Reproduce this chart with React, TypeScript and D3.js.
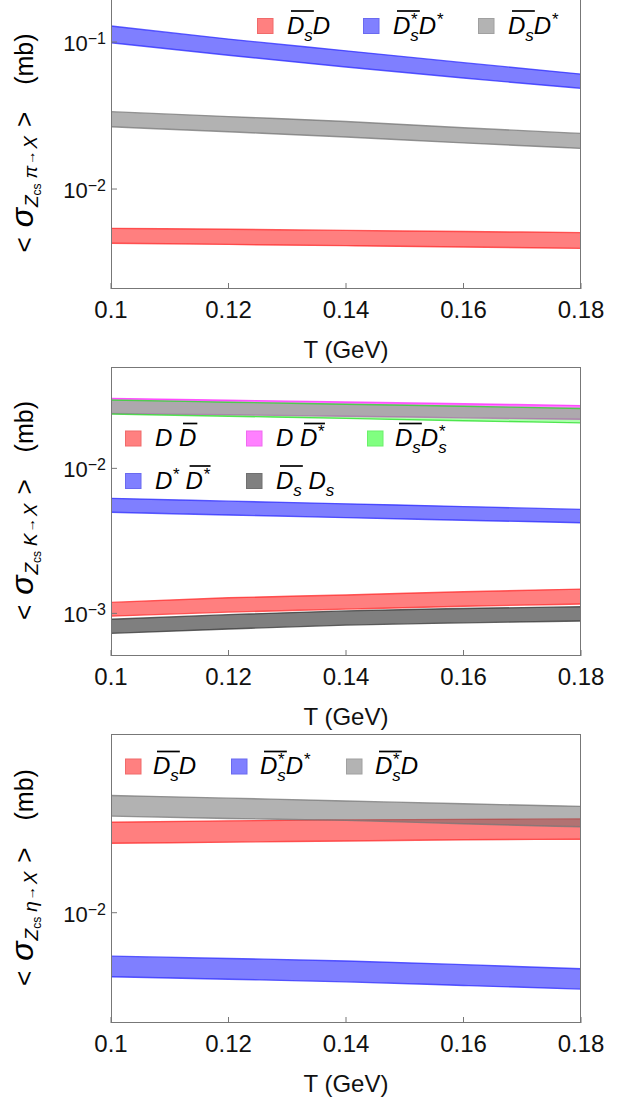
import React from 'react';
import * as d3 from 'd3';

// ---------------- data ----------------
const T = [0.1, 0.12, 0.14, 0.16, 0.18];
const xTicks = [0.1, 0.12, 0.14, 0.16, 0.18];
const xTickLabels = ['0.1', '0.12', '0.14', '0.16', '0.18'];

// Panel 1: Zcs pi -> X
const pi_DsD_hi = [0.0054, 0.00532, 0.00523, 0.00514, 0.00505];
const pi_DsD_lo = [0.00428, 0.0042, 0.00412, 0.00403, 0.00395];
const pi_DssDs_hi = [0.1285, 0.1047, 0.0871, 0.0724, 0.0605];
const pi_DssDs_lo = [0.0989, 0.0813, 0.0676, 0.0569, 0.0484];
const pi_DsDst_hi = [0.0336, 0.0311, 0.0288, 0.0261, 0.0239];
const pi_DsDst_lo = [0.0265, 0.0245, 0.0226, 0.0206, 0.0189];
const pi_yTicks = [0.1, 0.01];
const pi_yTickExp = ['−1', '−2'];

// Panel 2: Zcs K -> X
const K_DD_hi = [0.00119, 0.00128, 0.00134, 0.00141, 0.00147];
const K_DD_lo = [0.000957, 0.00102, 0.00107, 0.00112, 0.00116];
const K_DDst_hi = [0.0304, 0.0295, 0.0287, 0.0279, 0.0271];
const K_DDst_lo = [0.0239, 0.0234, 0.0229, 0.0223, 0.0218];
const K_DsDss_hi = [0.0296, 0.0286, 0.0277, 0.0268, 0.0259];
const K_DsDss_lo = [0.0237, 0.0229, 0.0221, 0.0213, 0.0206];
const K_DstDst_hi = [0.00621, 0.00594, 0.00569, 0.00545, 0.00521];
const K_DstDst_lo = [0.00498, 0.00477, 0.00457, 0.00439, 0.00422];
const K_DsDs_hi = [0.00091, 0.00098, 0.00104, 0.00108, 0.00111];
const K_DsDs_lo = [0.000728, 0.00078, 0.00083, 0.00086, 0.000885];
const K_yTicks = [0.01, 0.001];
const K_yTickExp = ['−2', '−3'];

// Panel 3: Zcs eta -> X
const eta_DsD_hi = [0.0226, 0.0229, 0.0231, 0.0232, 0.0233];
const eta_DsD_lo = [0.0187, 0.0189, 0.0191, 0.0193, 0.0194];
const eta_DssDs_hi = [0.00676, 0.00662, 0.00647, 0.00626, 0.00603];
const eta_DssDs_lo = [0.00561, 0.00549, 0.00536, 0.00519, 0.00502];
const eta_DssD_hi = [0.0288, 0.0281, 0.0274, 0.0267, 0.0261];
const eta_DssD_lo = [0.0239, 0.0234, 0.023, 0.0223, 0.0217];
const eta_yTicks = [0.01];
const eta_yTickExp = ['−2'];

// ---------------- styling ----------------
const FONT = '"Liberation Sans", Arial, Helvetica, sans-serif';
const COLORS: Record<string, { fill: string; line: string; sw: string; swb: string }> = {
  red: { fill: '#ff0000', line: '#ff2a2a', sw: '#ff8080', swb: '#f06a6a' },
  blue: { fill: '#0000ff', line: '#2a2aff', sw: '#8080ff', swb: '#6a6af0' },
  gray: { fill: '#666666', line: '#777777', sw: '#b3b3b3', swb: '#a0a0a0' },
  dark: { fill: '#000000', line: '#333333', sw: '#808080', swb: '#707070' },
  magenta: { fill: '#ff00ff', line: '#ff2aff', sw: '#ff80ff', swb: '#f06af0' },
  green: { fill: '#00ff00', line: '#22dd22', sw: '#80ff80', swb: '#6af06a' },
};

// ---------------- rich text ----------------
type Piece = { t: string; s: number; dy?: number; i?: boolean; st?: boolean; ov?: boolean; g?: number };
let ctx: CanvasRenderingContext2D | null = null;
function mw(t: string, size: number, italic?: boolean) {
  if (!ctx) ctx = document.createElement('canvas').getContext('2d');
  if (!ctx) return t.length * size * 0.6;
  ctx.font = `${italic ? 'italic ' : ''}${size}px "Liberation Sans"`;
  return ctx.measureText(t).width;
}
function layout(pieces: Piece[]) {
  let x = 0;
  let prevStart = 0;
  const items: (Piece & { x: number; w: number })[] = [];
  for (const p of pieces) {
    const w = mw(p.t, p.s, p.i);
    const px = p.st ? prevStart : x + (p.g || 0);
    items.push({ ...p, x: px, w });
    if (p.st) x = Math.max(x, px + w);
    else {
      prevStart = px;
      x = px + w;
    }
  }
  return { items, width: x };
}
function RichText({ pieces, x, y, anchor = 'start', rotate = 0, ovY = 22.5 }: { pieces: Piece[]; x: number; y: number; anchor?: string; rotate?: number; ovY?: number }) {
  const { items, width } = layout(pieces);
  const off = anchor === 'middle' ? -width / 2 : anchor === 'end' ? -width : 0;
  const groups: { x0: number; x1: number }[] = [];
  let cur: { x0: number; x1: number } | null = null;
  items.forEach((it) => {
    if (it.ov) {
      if (!cur) {
        cur = { x0: it.x, x1: it.x + it.w };
        groups.push(cur);
      } else cur.x1 = Math.max(cur.x1, it.x + it.w);
    } else cur = null;
  });
  return (
    <g transform={`translate(${x},${y}) rotate(${rotate})`}>
      {items.map((it, k) => (
        <text key={k} x={it.x + off} y={it.dy || 0} fontSize={it.s} fontStyle={it.i ? 'italic' : 'normal'} fontFamily={FONT} fill="#000">
          {it.t}
        </text>
      ))}
      {groups.map((g, k) => (
        <line key={'o' + k} x1={g.x0 + off + 4} x2={g.x1 + off + 1} y1={-ovY} y2={-ovY} stroke="#000" strokeWidth={1.7} />
      ))}
    </g>
  );
}

const M = 24; // legend main size
const D = (ov = false): Piece => ({ t: 'D', s: M, i: true, ov });
const sub = (ov = false, st = false): Piece => ({ t: 's', s: 17, dy: 7, i: true, ov, st });
const sup = (ov = false, st = false): Piece => ({ t: '*', s: 17, dy: -9, i: true, ov, st });
const sp: Piece = { t: ' ', s: M };

const lab_DsbarD: Piece[] = [D(true), sub(true), D()];
const lab_DssbarDst: Piece[] = [D(true), sub(true), sup(true, true), D(), sup()];
const lab_DsbarDst: Piece[] = [D(true), sub(true), D(), sup()];
const lab_DDbar: Piece[] = [D(), sp, D(true)];
const lab_DDstbar: Piece[] = [D(), sp, D(true), sup(true)];
const lab_DsbarDss: Piece[] = [D(true), sub(true), D(), sub(), sup(false, true)];
const lab_DstDstbar: Piece[] = [D(), sup(), sp, D(true), sup(true)];
const lab_DsbarDs: Piece[] = [D(true), sub(true), sp, D(), sub()];
const lab_DssbarD: Piece[] = [D(true), sub(true), sup(true, true), D()];

const ylabel = (meson: string): Piece[] => [
  { t: '<', s: 26 },
  { t: 'σ', s: 32, i: true, g: 10 },
  { t: 'Z', s: 19, dy: 5, i: true, g: 1 },
  { t: 'cs', s: 12, dy: 8 },
  { t: meson, s: 19, dy: 4, i: true, g: 5 },
  { t: '→', s: 14, dy: 2, g: 1 },
  { t: 'X', s: 19, dy: 4, i: true, g: 2 },
  { t: '>', s: 26, g: 9 },
  { t: '(mb)', s: 25, g: 27 },
];

// ---------------- panels ----------------
type Band = { color: string; lo: number[]; hi: number[]; fillOp?: number };
type Leg = { color: string; label: Piece[]; sx: number; tx: number; y: number };
type PanelDef = {
  top: number;
  bottom: number;
  logMin: number;
  logMax: number;
  bands: Band[];
  yTicks: number[];
  yExp: string[];
  meson: string;
  legend: Leg[];
};

const X0 = 111;
const X1 = 581;

const panels: PanelDef[] = [
  {
    top: -1,
    bottom: 289,
    logMin: -2.68,
    logMax: -0.7075,
    bands: [
      { color: 'red', lo: pi_DsD_lo, hi: pi_DsD_hi },
      { color: 'blue', lo: pi_DssDs_lo, hi: pi_DssDs_hi },
      { color: 'gray', lo: pi_DsDst_lo, hi: pi_DsDst_hi },
    ],
    yTicks: pi_yTicks,
    yExp: pi_yTickExp,
    meson: 'π',
    legend: [
      { color: 'red', label: lab_DsbarD, sx: 257, tx: 287, y: 33.5 },
      { color: 'blue', label: lab_DssbarDst, sx: 363, tx: 393, y: 33.5 },
      { color: 'gray', label: lab_DsbarDst, sx: 478, tx: 508, y: 33.5 },
    ],
  },
  {
    top: 367,
    bottom: 656,
    logMin: -3.294,
    logMax: -1.301,
    bands: [
      { color: 'red', lo: K_DD_lo, hi: K_DD_hi },
      { color: 'dark', lo: K_DsDs_lo, hi: K_DsDs_hi },
      { color: 'blue', lo: K_DstDst_lo, hi: K_DstDst_hi },
      { color: 'magenta', lo: K_DDst_lo, hi: K_DDst_hi },
      { color: 'green', lo: K_DsDss_lo, hi: K_DsDss_hi, fillOp: 0.32 },
    ],
    yTicks: K_yTicks,
    yExp: K_yTickExp,
    meson: 'K',
    legend: [
      { color: 'red', label: lab_DDbar, sx: 125, tx: 155, y: 446 },
      { color: 'magenta', label: lab_DDstbar, sx: 246, tx: 276, y: 446 },
      { color: 'green', label: lab_DsbarDss, sx: 367, tx: 395, y: 446 },
      { color: 'blue', label: lab_DstDstbar, sx: 125, tx: 155, y: 488.5 },
      { color: 'dark', label: lab_DsbarDs, sx: 246, tx: 276, y: 488.5 },
    ],
  },
  {
    top: 734,
    bottom: 1023,
    logMin: -2.432,
    logMax: -1.3,
    bands: [
      { color: 'red', lo: eta_DsD_lo, hi: eta_DsD_hi },
      { color: 'gray', lo: eta_DssD_lo, hi: eta_DssD_hi },
      { color: 'blue', lo: eta_DssDs_lo, hi: eta_DssDs_hi },
    ],
    yTicks: eta_yTicks,
    yExp: eta_yTickExp,
    meson: 'η',
    legend: [
      { color: 'red', label: lab_DsbarD, sx: 125, tx: 153, y: 774 },
      { color: 'blue', label: lab_DssbarDst, sx: 231, tx: 260, y: 774 },
      { color: 'gray', label: lab_DssbarD, sx: 346, tx: 375, y: 774 },
    ],
  },
];

function Panel({ p, idx }: { p: PanelDef; idx: number }) {
  const x = d3.scaleLinear().domain([0.1, 0.18]).range([X0, X1]);
  const y = d3.scaleLog().domain([Math.pow(10, p.logMin), Math.pow(10, p.logMax)]).range([p.bottom, p.top]);
  const line = d3
    .line<number>()
    .x((_, i) => x(T[i]))
    .y((v) => y(v))
    .curve(d3.curveMonotoneX);
  const clipId = `clip${idx}`;
  const cy = (p.top + p.bottom) / 2;
  return (
    <g>
      <defs>
        <clipPath id={clipId}>
          <rect x={X0} y={p.top} width={X1 - X0} height={p.bottom - p.top} />
        </clipPath>
      </defs>
      <g clipPath={`url(#${clipId})`}>
        {p.bands.map((b, k) => {
          const c = COLORS[b.color];
          const a = d3
            .area<number>()
            .x((_, i) => x(T[i]))
            .y0((_, i) => y(b.lo[i]))
            .y1((v) => y(v))
            .curve(d3.curveMonotoneX);
          return (
            <g key={k}>
              <path d={a(b.hi) || ''} fill={c.fill} fillOpacity={b.fillOp ?? 0.5} stroke="none" />
              <path d={line(b.hi) || ''} fill="none" stroke={c.line} strokeOpacity={0.75} strokeWidth={1.4} />
              <path d={line(b.lo) || ''} fill="none" stroke={c.line} strokeOpacity={0.75} strokeWidth={1.4} />
            </g>
          );
        })}
      </g>
      <rect x={X0 + 0.5} y={p.top + 0.5} width={X1 - X0 - 1} height={p.bottom - p.top - 1} fill="none" stroke="#777" strokeWidth={1} />
      {xTicks.map((t, k) => (
        <g key={k}>
          <line x1={x(t)} x2={x(t)} y1={p.bottom} y2={p.bottom - 6} stroke="#777" />
          <text x={x(t)} y={p.bottom + 29} textAnchor="middle" fontSize={24} fontFamily={FONT} fill="#111">
            {xTickLabels[k]}
          </text>
        </g>
      ))}
      <text x={(X0 + X1) / 2} y={p.bottom + 69} textAnchor="middle" fontSize={24} fontFamily={FONT} fill="#111">
        T (GeV)
      </text>
      {p.yTicks.map((t, k) => (
        <g key={k}>
          <line x1={X0} x2={X0 + 6} y1={y(t)} y2={y(t)} stroke="#777" />
          <text x={106} y={y(t) + 9} textAnchor="end" fontSize={22} fontFamily={FONT} fill="#111">
            10
            <tspan fontSize={16} dy={-7}>
              {p.yExp[k]}
            </tspan>
          </text>
        </g>
      ))}
      <RichText pieces={ylabel(p.meson)} x={33} y={cy - 1} anchor="middle" rotate={-90} />
      {p.legend.map((l, k) => {
        const c = COLORS[l.color];
        return (
          <g key={k}>
            <rect x={l.sx + 0.5} y={l.y - 15} width={15.5} height={15} fill={c.sw} stroke={c.swb} strokeWidth={1} />
            <RichText pieces={l.label} x={l.tx} y={l.y} />
          </g>
        );
      })}
    </g>
  );
}

export default function App() {
  return (
    <svg width={633} height={1103} style={{ position: 'absolute', left: 0, top: 0, background: '#fff' }}>
      <rect x={0} y={0} width={633} height={1103} fill="#fff" />
      {panels.map((p, i) => (
        <Panel key={i} p={p} idx={i} />
      ))}
    </svg>
  );
}
